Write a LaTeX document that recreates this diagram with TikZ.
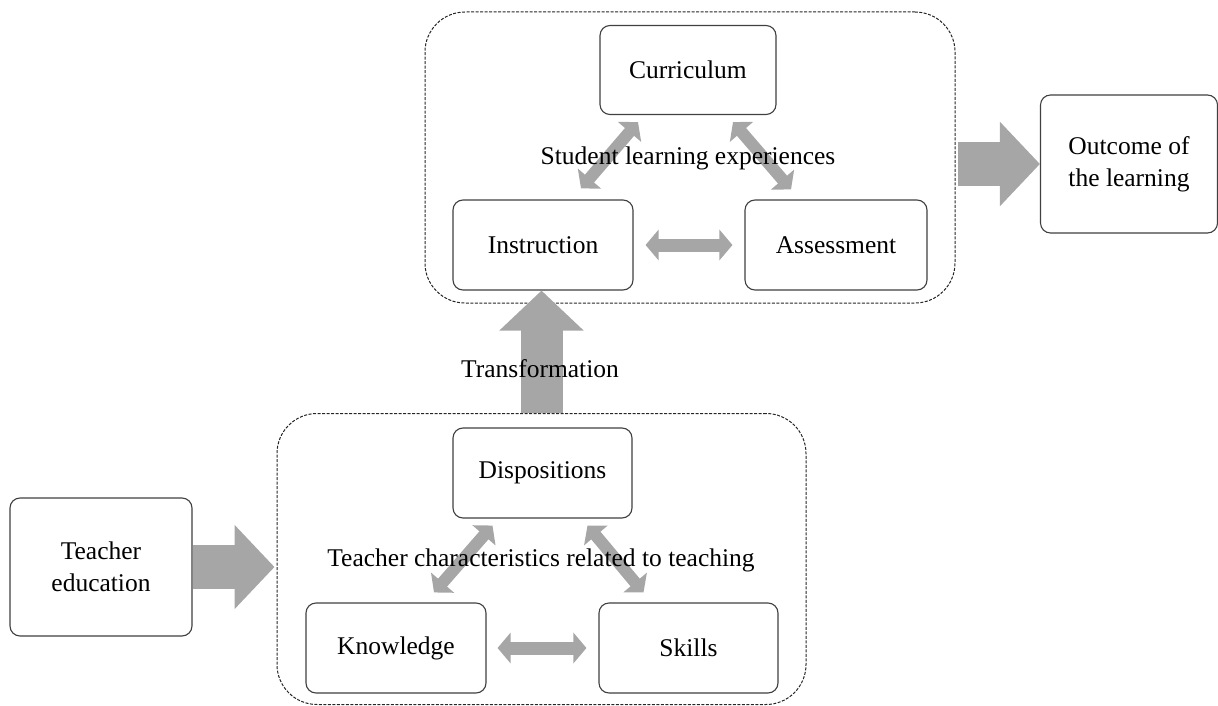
\documentclass[tikz,border=0pt]{standalone}
\usepackage{fontspec}
\setmainfont{Liberation Serif}
\usetikzlibrary{arrows.meta}
\definecolor{arrowgray}{HTML}{A6A6A6}
\tikzset{
	box/.style={draw=black!75, line width=1.1pt, rounded corners=10pt, fill=white, align=center, inner sep=0pt},
	group/.style={draw=black!85, dash pattern=on 3pt off 1.5pt, line width=1pt, rounded corners=40pt},
	fat/.style={arrowgray, line width=44pt, -{Triangle[length=40pt,width=82pt]}},
	twoway/.style={arrowgray, line width=13pt, {Triangle[length=13pt,width=30pt]}-{Triangle[length=13pt,width=30pt]}},
	label/.style={inner sep=0pt}
}

\begin{document}
\begin{tikzpicture}[x=1pt, y=-1pt, font=\fontsize{25.5}{32}\selectfont]
	\useasboundingbox (0,0) rectangle (1218,706);
	% groups
	\node[group, minimum width=530pt, minimum height=291pt] (studentgroup) at (690,157.5) {};
	\node[group, minimum width=529pt, minimum height=291pt] (teachergroup) at (541.5,559) {};
	% boxes
	\node[box, minimum width=176pt, minimum height=89pt] (curr) at (688,70) {Curriculum};
	\node[box, minimum width=180pt, minimum height=90pt] (instr) at (543,245) {Instruction};
	\node[box, minimum width=182pt, minimum height=90pt] (assess) at (836,245) {Assessment};
	\node[box, minimum width=177pt, minimum height=138pt] (outcome) at (1129,164) {Outcome of\\the learning};
	\node[box, minimum width=179pt, minimum height=90pt] (disp) at (542.5,473) {Dispositions};
	\node[box, minimum width=180pt, minimum height=90pt] (know) at (396,648) {Knowledge};
	\node[box, minimum width=179pt, minimum height=90pt] (skills) at (688.5,648) {Skills};
	\node[box, minimum width=182pt, minimum height=138pt] (teach) at (101,567) {Teacher\\education};
	% block arrows
	\draw[fat, shorten <=2pt] (outcome.west -| studentgroup.east) -- (outcome.west);
	\draw[fat, shorten >=2pt] (teach.east) -- (teach.east -| teachergroup.west);
	\draw[fat, line width=42pt] (teachergroup.north) -- (teachergroup.north |- instr.south);
	% two-way arrows
	\draw[twoway, shorten <=12pt, shorten >=12pt] (instr.east) -- (assess.west);
	\draw[twoway, shorten <=11pt, shorten >=12pt] (know.east) -- (skills.west);
	\draw[twoway, line width=12pt] ([shift={(38,-11)}]instr.north) -- ([shift={(-50,7)}]curr.south);
	\draw[twoway, line width=12pt] ([shift={(-45,-10)}]assess.north) -- ([shift={(45,7)}]curr.south);
	\draw[twoway, line width=12pt] ([shift={(38,-10)}]know.north) -- ([shift={(-50,7)}]disp.south);
	\draw[twoway, line width=12pt] ([shift={(-45,-10)}]skills.north) -- ([shift={(45,7)}]disp.south);
	% labels
	\node[label] (studentlabel) at (688,158) {Student learning experiences};
	\node[label] (teacherlabel) at (541,560) {Teacher characteristics related to teaching};
	\node[label] (translabel) at (540,369) {Transformation};
\end{tikzpicture}
\end{document}
